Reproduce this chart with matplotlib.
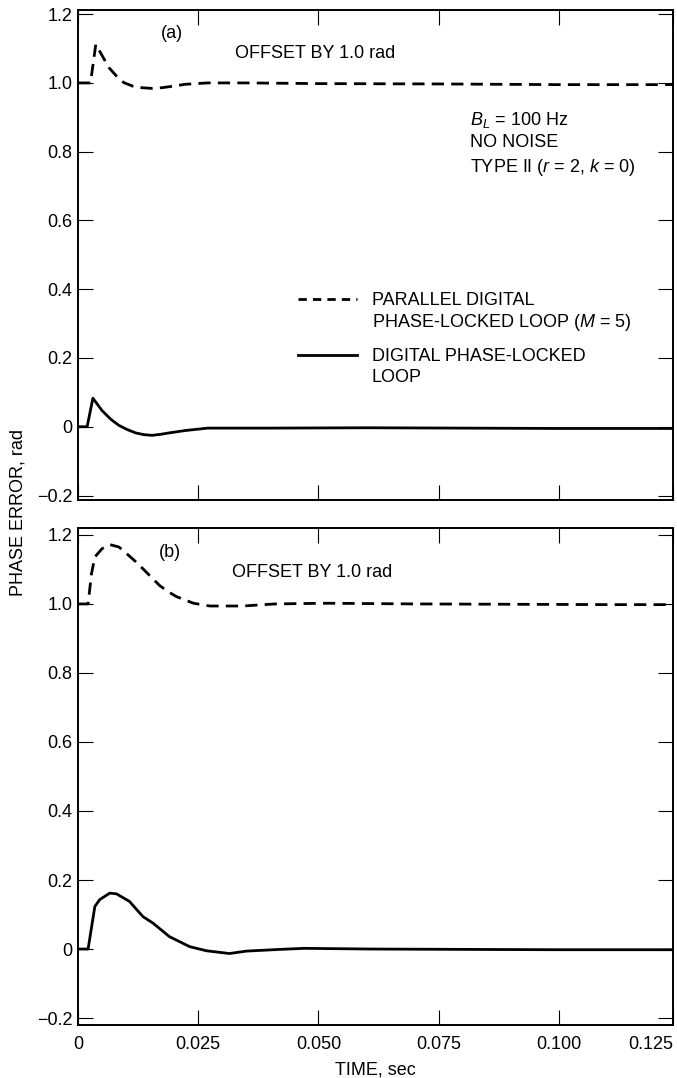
import matplotlib
matplotlib.use("Agg")
import matplotlib.pyplot as plt
from matplotlib.lines import Line2D

plt.rcParams['font.family'] = ['Liberation Sans', 'DejaVu Sans']
plt.rcParams['mathtext.fontset'] = 'custom'
plt.rcParams['mathtext.rm'] = 'Liberation Sans'
plt.rcParams['mathtext.it'] = 'Liberation Sans:italic'
FS = 13
plt.rcParams['font.size'] = FS

# (a) 上段: 破線 = 並列DPLL (1.0 rad オフセット), 実線 = DPLL
t_a_par = [0, 0.0026, 0.0037, 0.0050, 0.0064, 0.0080, 0.0095, 0.0115, 0.0133,
           0.0155, 0.0174, 0.0200, 0.0223, 0.0270, 0.035, 0.05, 0.075, 0.1, 0.1237]
e_a_par = [1.0, 1.0, 1.112, 1.08, 1.045, 1.02, 1.001, 0.99, 0.986,
           0.984, 0.986, 0.991, 0.996, 1.0, 1.0, 0.998, 0.997, 0.995, 0.995]
t_a_dpll = [0, 0.0019, 0.0031, 0.0050, 0.0068, 0.0085, 0.0102, 0.0120, 0.0137,
            0.0154, 0.0172, 0.0189, 0.0223, 0.027, 0.04, 0.06, 0.08, 0.1, 0.1237]
e_a_dpll = [0, 0, 0.083, 0.047, 0.022, 0.004, -0.008, -0.018, -0.023,
            -0.025, -0.022, -0.018, -0.011, -0.004, -0.004, -0.003, -0.004, -0.005, -0.005]

# (b) 下段
t_b_par = [0, 0.0021, 0.0028, 0.0035, 0.0050, 0.0066, 0.0085, 0.0101, 0.0118,
           0.0135, 0.0152, 0.0170, 0.0188, 0.0205, 0.024, 0.0274, 0.0343, 0.041,
           0.0516, 0.07, 0.09, 0.11, 0.1237]
e_b_par = [1.0, 1.0, 1.087, 1.136, 1.16, 1.172, 1.165, 1.146, 1.125,
           1.102, 1.078, 1.053, 1.035, 1.021, 1.002, 0.994, 0.994, 1.0,
           1.002, 1.0, 0.999, 0.998, 0.998]
t_b_dpll = [0, 0.0021, 0.0035, 0.0045, 0.0066, 0.0080, 0.0107, 0.0135, 0.0156,
            0.019, 0.0232, 0.0267, 0.0315, 0.035, 0.042, 0.047, 0.061, 0.08, 0.1, 0.1237]
e_b_dpll = [0, 0, 0.123, 0.143, 0.162, 0.160, 0.138, 0.094, 0.075,
            0.036, 0.007, -0.005, -0.013, -0.006, -0.001, 0.002, 0.0, -0.001, -0.002, -0.002]

x_ticks = [0, 0.025, 0.050, 0.075, 0.100, 0.1237]
x_ticklabels = ['0', '0.025', '0.050', '0.075', '0.100', '0.125']
y_ticks = [-0.2, 0, 0.2, 0.4, 0.6, 0.8, 1.0, 1.2]
y_ticklabels = ['\u22120.2', '0', '0.2', '0.4', '0.6', '0.8', '1.0', '1.2']

DASH = (4.4, 2.6)
LW = 2.0

fig = plt.figure(figsize=(6.77, 10.78), dpi=100)
ax_a = fig.add_axes([0.1152, 0.5362, 0.8789, 0.4545])
ax_b = fig.add_axes([0.1152, 0.0492, 0.8789, 0.4610])

def style(ax, ylim, show_x):
    ax.set_xlim(0, 0.1237)
    ax.set_ylim(*ylim)
    ax.set_xticks(x_ticks)
    ax.set_yticks(y_ticks)
    ax.set_yticklabels(y_ticklabels)
    if show_x:
        ax.set_xticklabels(x_ticklabels)
        ax.get_xticklabels()[-1].set_horizontalalignment('right')
    else:
        ax.set_xticklabels([])
    ax.tick_params(direction='in', length=11, width=0.8, top=True, right=True,
                   labelsize=FS, pad=4)
    ax.tick_params(axis='x', pad=8)
    for s in ax.spines.values():
        s.set_linewidth(1.4)

ax_a.plot(t_a_par, e_a_par, color='black', lw=LW, dashes=DASH)
ax_a.plot(t_a_dpll, e_a_dpll, color='black', lw=LW)
style(ax_a, (-0.213, 1.212), False)

ax_b.plot(t_b_par, e_b_par, color='black', lw=LW, dashes=DASH)
ax_b.plot(t_b_dpll, e_b_dpll, color='black', lw=LW)
style(ax_b, (-0.22, 1.22), True)

ax_a.text(0.158, 0.953, '(a)', transform=ax_a.transAxes, ha='center', va='center')
ax_a.text(0.264, 0.912, 'OFFSET BY 1.0 rad', transform=ax_a.transAxes, ha='left', va='center')
ax_a.text(0.659, 0.776, '$B_L$ = 100 Hz', transform=ax_a.transAxes, ha='left', va='center')
ax_a.text(0.659, 0.729, 'NO NOISE', transform=ax_a.transAxes, ha='left', va='center')
ax_a.text(0.659, 0.678, 'TYPE II ($r$ = 2, $k$ = 0)', transform=ax_a.transAxes, ha='left', va='center')

# 凡例 (手書き配置)
ax_a.add_line(Line2D([0.370, 0.469], [0.410, 0.410], transform=ax_a.transAxes,
                     color='black', lw=LW, dashes=(3.0, 2.2)))
ax_a.add_line(Line2D([0.370, 0.469], [0.295, 0.295], transform=ax_a.transAxes,
                     color='black', lw=LW))
ax_a.text(0.494, 0.408, 'PARALLEL DIGITAL', transform=ax_a.transAxes, ha='left', va='center')
ax_a.text(0.494, 0.363, 'PHASE-LOCKED LOOP ($M$ = 5)', transform=ax_a.transAxes, ha='left', va='center')
ax_a.text(0.494, 0.292, 'DIGITAL PHASE-LOCKED', transform=ax_a.transAxes, ha='left', va='center')
ax_a.text(0.494, 0.249, 'LOOP', transform=ax_a.transAxes, ha='left', va='center')

ax_b.text(0.155, 0.950, '(b)', transform=ax_b.transAxes, ha='center', va='center')
ax_b.text(0.259, 0.911, 'OFFSET BY 1.0 rad', transform=ax_b.transAxes, ha='left', va='center')

fig.text(0.027, 0.525, 'PHASE ERROR, rad', rotation=90, ha='center', va='center', fontsize=FS)
ax_b.set_xlabel('TIME, sec', fontsize=FS, labelpad=6)

fig.savefig('out.png', dpi=100)
